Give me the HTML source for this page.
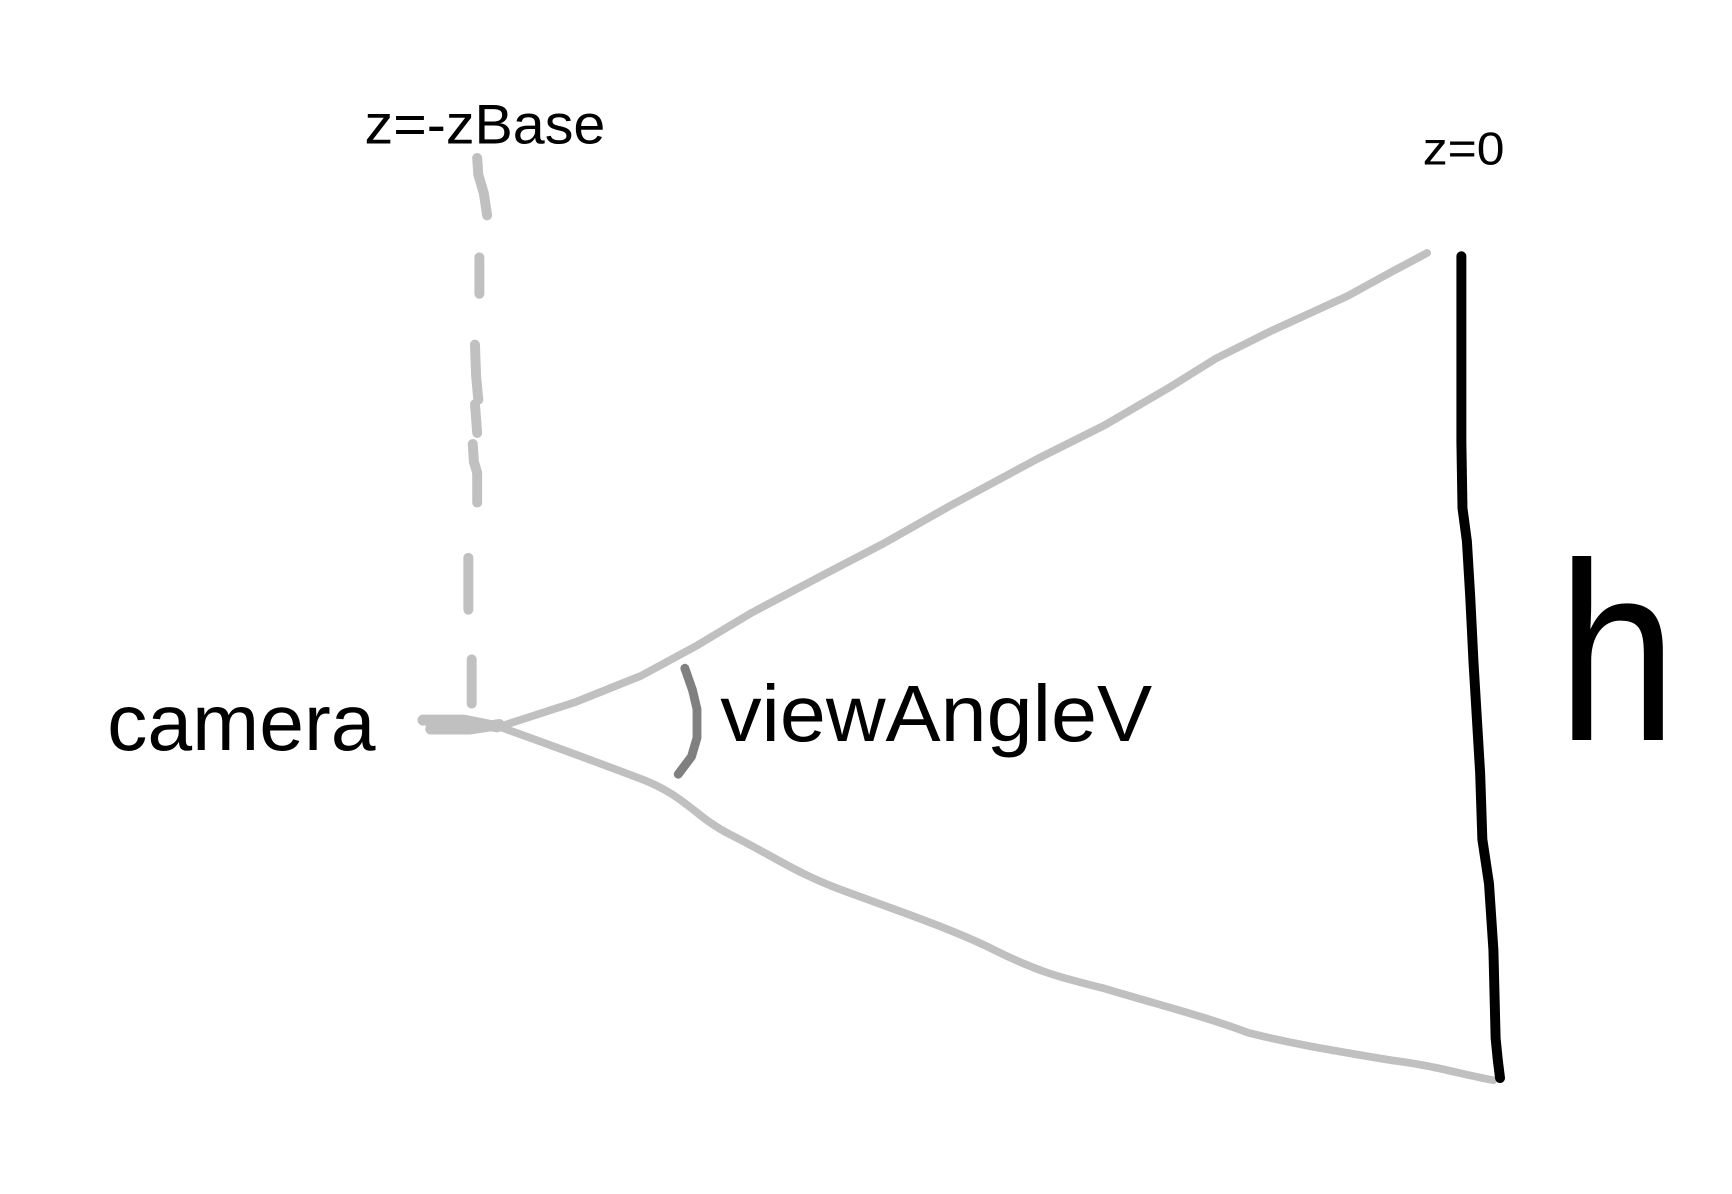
<!DOCTYPE html>
<html><head><style>html,body{margin:0;padding:0;background:#fff;}svg{display:block}</style></head>
<body>
<svg width="1732" height="1194" viewBox="0 0 1568 1081" preserveAspectRatio="none" xmlns="http://www.w3.org/2000/svg">
<g fill="none" stroke-linecap="round" stroke-linejoin="round">
<g stroke="#c0c0c0" stroke-width="9">
<path d="M432 143 L433 158 L438 175 L441 195"/>
<path d="M434 233 L434 266"/>
<path d="M430 312 L431 340 L433 362"/>
<path d="M430 366 L432 392"/>
<path d="M428 402 L429 418 L432 428 L432 455"/>
<path d="M424 505 L424 552"/>
<path d="M427 597 L427 637"/>
</g>
<path d="M383 652 L420 652 L450 658 M390 660 L425 660 L452 656" stroke="#c0c0c0" stroke-width="10"/>
<path d="M452 658 L520 636 L580 612 L630 585 L680 555 L750 518 L800 492 L860 458 L940 415 L1000 385 L1060 350 L1100 325 L1150 300 L1220 268 L1260 246 L1292 229" stroke="#c0c0c0" stroke-width="7"/>
<path d="M452 658 C500 675 540 690 580 705 C620 720 630 740 660 755 C700 775 720 790 760 805 C800 820 860 840 900 860 C940 880 960 885 1000 895 C1050 910 1090 920 1130 935 C1170 945 1200 950 1260 960 C1300 965 1320 972 1352 978" stroke="#c0c0c0" stroke-width="7"/>
<path d="M620 605 L627 625 L631 642 L631 668 L626 685 L614 701" stroke="#808080" stroke-width="8"/>
<path d="M1323 232 L1323 400 L1324 460 L1328 490 L1331 540 L1334 600 L1337 650 L1340 700 L1342 760 L1348 800 L1352 860 L1354 940 L1356 960 L1358 976" stroke="#000" stroke-width="9"/>
</g>
<g font-family="'Liberation Sans', sans-serif" fill="#000">
<text x="330" y="130" font-size="50" textLength="218" lengthAdjust="spacingAndGlyphs">z=-zBase</text>
<text x="1288" y="149" font-size="42" textLength="74" lengthAdjust="spacingAndGlyphs">z=0</text>
<text x="97" y="679" font-size="72" textLength="243" lengthAdjust="spacingAndGlyphs">camera</text>
<text x="652" y="671" font-size="72" textLength="391" lengthAdjust="spacingAndGlyphs">viewAngleV</text>
<text x="1410" y="670" font-size="230" textLength="108" lengthAdjust="spacingAndGlyphs">h</text>
</g>
</svg>
</body></html>
